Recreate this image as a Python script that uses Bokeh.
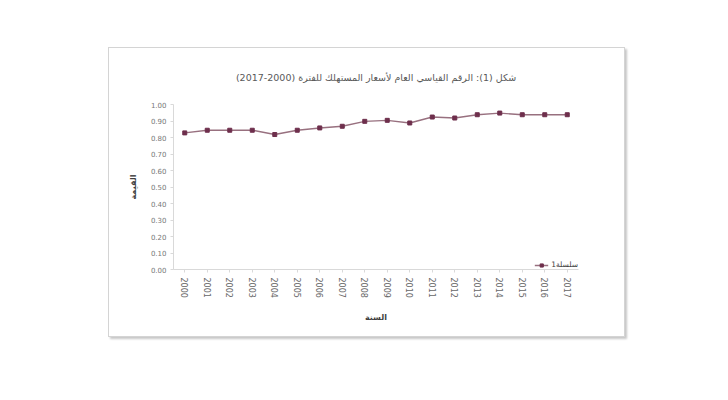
from bokeh.plotting import figure
from bokeh.models import FactorRange, Legend, LegendItem, FixedTicker, NumeralTickFormatter
from bokeh.embed import file_html
from bokeh.resources import INLINE

years = [str(y) for y in range(2000, 2018)]
values = [0.828, 0.844, 0.844, 0.844, 0.818, 0.844, 0.858, 0.868, 0.898,
          0.904, 0.888, 0.924, 0.918, 0.938, 0.948, 0.938, 0.938, 0.938]
y_ticks = [0.0, 0.1, 0.2, 0.3, 0.4, 0.5, 0.6, 0.7, 0.8, 0.9, 1.0]

title_text = "شكل (1): الرقم القياسي العام لأسعار المستهلك للفترة (2000-2017)"
y_title = "القيمة"
x_title = "السنة"
series_name = "سلسلة1"

FONT = "DejaVu Sans"

p = figure(width=517, height=290, x_range=FactorRange(*years), y_range=(0, 1),
           output_backend="svg", toolbar_location=None,
           min_border_left=64, min_border_right=48, min_border_top=55, min_border_bottom=69)
p.margin = (47, 0, 0, 108)
p.styles = {"border": "1px solid #d4d4d4", "box-shadow": "2px 2px 2px #c8c8c8"}

p.background_fill_color = "white"
p.border_fill_color = "white"
p.outline_line_color = None
p.grid.visible = False

p.title.text = title_text
p.title.align = "center"
p.title.text_font = FONT
p.title.text_font_size = "9.5px"
p.title.text_font_style = "normal"
p.title.text_color = "#595959"
p.title.standoff = 43

line = p.line(years, values, line_color="#98707f", line_width=1.4)
pts = p.scatter(years, values, marker="square", size=4, fill_color="#6e2f4c", line_color="#6e2f4c")

yax = p.yaxis[0]
yax.ticker = FixedTicker(ticks=y_ticks)
yax.formatter = NumeralTickFormatter(format="0.00")
yax.axis_line_color = "#d9d9d9"
yax.major_tick_line_color = "#d9d9d9"
yax.major_tick_out = 3
yax.major_tick_in = 0
yax.minor_tick_line_color = None
yax.major_label_text_font = FONT
yax.major_label_text_font_size = "7px"
yax.major_label_text_color = "#777777"
yax.major_label_standoff = 4
yax.axis_label = y_title
yax.axis_label_text_font = FONT
yax.axis_label_text_font_size = "8px"
yax.axis_label_text_font_style = "bold"
yax.axis_label_text_color = "#404040"
yax.axis_label_standoff = 10

xax = p.xaxis[0]
xax.axis_line_color = "#d9d9d9"
xax.major_tick_line_color = "#d9d9d9"
xax.major_tick_out = 3
xax.major_tick_in = 0
xax.minor_tick_line_color = None
xax.major_label_orientation = "vertical"
xax.major_label_text_font = FONT
xax.major_label_text_font_size = "8px"
xax.major_label_text_color = "#666666"
xax.major_label_standoff = 5
xax.axis_label = x_title
xax.axis_label_text_font = FONT
xax.axis_label_text_font_size = "8px"
xax.axis_label_text_font_style = "bold"
xax.axis_label_text_color = "#404040"
xax.axis_label_standoff = 12

legend = Legend(items=[LegendItem(label=series_name, renderers=[line, pts])],
                location="bottom_right",
                label_text_font=FONT, label_text_font_size="7.5px", label_text_color="#404040",
                glyph_width=14, glyph_height=8, label_height=8, label_standoff=3,
                padding=1, spacing=0, margin=0, border_line_color=None,
                background_fill_color="white", background_fill_alpha=1.0)
p.add_layout(legend, "center")

open("out.html", "w").write(file_html(p, INLINE))
